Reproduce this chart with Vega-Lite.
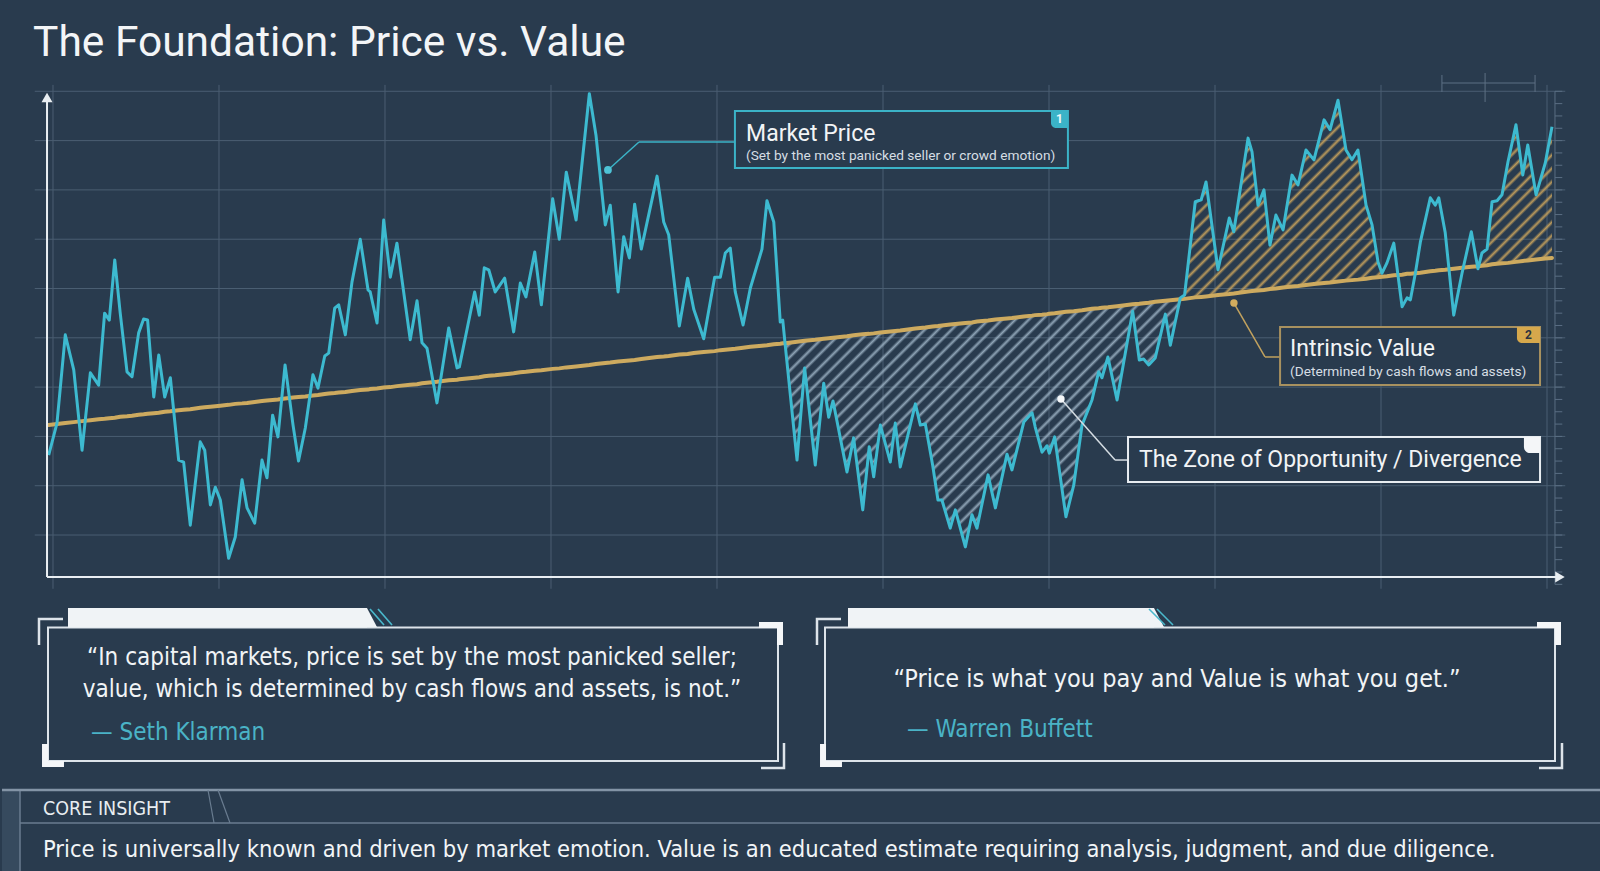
{
  "$schema": "https://vega.github.io/schema/vega-lite/v6.json",
  "background": "#293b4e",
  "padding": 0,
  "config": {
    "view": {"stroke": null},
    "axis": {"disable": true},
    "font": "Roboto"
  },
  "datasets": {
    "header": [{"title": "The Foundation: Price vs. Value"}],
    "prices": [
      {"t": -0.26, "price": 26.2, "value": 32.3}, {"t": 0.24, "price": 32.7, "value": 32.5}, {"t": 0.74, "price": 50.6, "value": 32.7},
      {"t": 1.25, "price": 43.5, "value": 32.9}, {"t": 1.75, "price": 27.2, "value": 33.1}, {"t": 2.25, "price": 42.9, "value": 33.3},
      {"t": 2.75, "price": 40.4, "value": 33.5}, {"t": 3.11, "price": 55.0, "value": 33.6}, {"t": 3.39, "price": 53.6, "value": 33.7},
      {"t": 3.72, "price": 65.8, "value": 33.8}, {"t": 4.05, "price": 55.0, "value": 34.0}, {"t": 4.46, "price": 43.1, "value": 34.1},
      {"t": 4.76, "price": 42.1, "value": 34.2}, {"t": 5.16, "price": 51.0, "value": 34.4}, {"t": 5.46, "price": 53.8, "value": 34.5},
      {"t": 5.70, "price": 53.6, "value": 34.6}, {"t": 6.07, "price": 38.0, "value": 34.7}, {"t": 6.37, "price": 46.5, "value": 34.8},
      {"t": 6.73, "price": 38.0, "value": 35.0}, {"t": 7.07, "price": 41.9, "value": 35.1}, {"t": 7.57, "price": 25.2, "value": 35.3},
      {"t": 7.87, "price": 24.8, "value": 35.4}, {"t": 8.27, "price": 12.0, "value": 35.5}, {"t": 8.87, "price": 28.9, "value": 35.8},
      {"t": 9.14, "price": 27.2, "value": 35.9}, {"t": 9.48, "price": 16.1, "value": 36.0}, {"t": 9.78, "price": 19.7, "value": 36.1},
      {"t": 10.08, "price": 17.1, "value": 36.2}, {"t": 10.58, "price": 5.3, "value": 36.4}, {"t": 10.98, "price": 9.6, "value": 36.6},
      {"t": 11.39, "price": 21.2, "value": 36.7}, {"t": 11.69, "price": 15.5, "value": 36.8}, {"t": 12.15, "price": 12.4, "value": 37.0},
      {"t": 12.59, "price": 25.2, "value": 37.2}, {"t": 12.89, "price": 21.6, "value": 37.3}, {"t": 13.23, "price": 34.3, "value": 37.4},
      {"t": 13.55, "price": 29.9, "value": 37.5}, {"t": 13.98, "price": 44.5, "value": 37.7}, {"t": 14.46, "price": 32.3, "value": 37.9},
      {"t": 14.79, "price": 25.0, "value": 38.0}, {"t": 15.20, "price": 31.7, "value": 38.1}, {"t": 15.66, "price": 42.5, "value": 38.3},
      {"t": 15.96, "price": 39.8, "value": 38.4}, {"t": 16.37, "price": 46.3, "value": 38.6}, {"t": 16.61, "price": 46.9, "value": 38.7},
      {"t": 16.97, "price": 56.0, "value": 38.8}, {"t": 17.21, "price": 56.7, "value": 38.9}, {"t": 17.61, "price": 50.6, "value": 39.0},
      {"t": 18.01, "price": 61.3, "value": 39.2}, {"t": 18.51, "price": 70.0, "value": 39.4}, {"t": 18.98, "price": 59.7, "value": 39.5},
      {"t": 19.11, "price": 59.3, "value": 39.6}, {"t": 19.52, "price": 53.0, "value": 39.7}, {"t": 19.92, "price": 73.9, "value": 39.9},
      {"t": 20.32, "price": 62.3, "value": 40.0}, {"t": 20.72, "price": 69.2, "value": 40.2}, {"t": 21.52, "price": 49.6, "value": 40.5},
      {"t": 21.93, "price": 57.5, "value": 40.6}, {"t": 22.23, "price": 49.0, "value": 40.8}, {"t": 22.53, "price": 47.9, "value": 40.9},
      {"t": 23.13, "price": 36.8, "value": 41.1}, {"t": 23.84, "price": 52.0, "value": 41.4}, {"t": 24.34, "price": 43.9, "value": 41.5},
      {"t": 24.48, "price": 44.1, "value": 41.6}, {"t": 25.40, "price": 59.3, "value": 41.9}, {"t": 25.68, "price": 54.6, "value": 42.0},
      {"t": 25.98, "price": 64.2, "value": 42.2}, {"t": 26.25, "price": 63.8, "value": 42.3}, {"t": 26.64, "price": 59.3, "value": 42.4},
      {"t": 27.21, "price": 62.1, "value": 42.6}, {"t": 27.75, "price": 51.2, "value": 42.8}, {"t": 28.15, "price": 61.1, "value": 43.0},
      {"t": 28.49, "price": 58.3, "value": 43.1}, {"t": 29.02, "price": 67.4, "value": 43.3}, {"t": 29.42, "price": 56.7, "value": 43.4},
      {"t": 30.10, "price": 78.2, "value": 43.7}, {"t": 30.50, "price": 70.0, "value": 43.8}, {"t": 30.92, "price": 83.6, "value": 44.0},
      {"t": 31.51, "price": 73.9, "value": 44.2}, {"t": 32.31, "price": 99.5, "value": 44.5}, {"t": 32.71, "price": 91.1, "value": 44.7},
      {"t": 33.27, "price": 72.9, "value": 44.9}, {"t": 33.57, "price": 76.9, "value": 45.0}, {"t": 34.04, "price": 59.3, "value": 45.2},
      {"t": 34.38, "price": 70.5, "value": 45.3}, {"t": 34.72, "price": 66.2, "value": 45.4}, {"t": 35.04, "price": 77.1, "value": 45.5},
      {"t": 35.44, "price": 68.0, "value": 45.7}, {"t": 36.39, "price": 82.8, "value": 46.1}, {"t": 36.79, "price": 73.5, "value": 46.2},
      {"t": 37.09, "price": 70.9, "value": 46.3}, {"t": 37.73, "price": 52.4, "value": 46.6}, {"t": 38.23, "price": 62.1, "value": 46.7},
      {"t": 38.60, "price": 55.8, "value": 46.9}, {"t": 39.20, "price": 49.8, "value": 47.1}, {"t": 39.86, "price": 62.3, "value": 47.3},
      {"t": 40.20, "price": 62.3, "value": 47.5}, {"t": 40.50, "price": 67.2, "value": 47.6}, {"t": 40.80, "price": 68.2, "value": 47.7},
      {"t": 41.10, "price": 59.3, "value": 47.8}, {"t": 41.57, "price": 52.6, "value": 48.0}, {"t": 42.01, "price": 60.1, "value": 48.2},
      {"t": 42.71, "price": 68.0, "value": 48.4}, {"t": 43.01, "price": 77.8, "value": 48.5}, {"t": 43.42, "price": 73.5, "value": 48.7},
      {"t": 43.81, "price": 53.2, "value": 48.8}, {"t": 43.96, "price": 53.6, "value": 48.9}, {"t": 44.11, "price": 48.5, "value": 48.9},
      {"t": 44.82, "price": 25.2, "value": 49.2}, {"t": 45.28, "price": 43.9, "value": 49.4}, {"t": 45.92, "price": 24.2, "value": 49.6},
      {"t": 46.43, "price": 40.8, "value": 49.8}, {"t": 46.73, "price": 33.9, "value": 49.9}, {"t": 46.99, "price": 37.2, "value": 50.0},
      {"t": 47.83, "price": 22.8, "value": 50.3}, {"t": 48.23, "price": 29.7, "value": 50.5}, {"t": 48.78, "price": 15.1, "value": 50.7},
      {"t": 49.17, "price": 27.9, "value": 50.8}, {"t": 49.44, "price": 21.8, "value": 50.9}, {"t": 49.84, "price": 32.3, "value": 51.1},
      {"t": 50.44, "price": 24.8, "value": 51.3}, {"t": 50.74, "price": 32.7, "value": 51.4}, {"t": 51.04, "price": 23.8, "value": 51.5},
      {"t": 51.95, "price": 36.6, "value": 51.9}, {"t": 52.25, "price": 32.3, "value": 52.0}, {"t": 52.55, "price": 32.5, "value": 52.1},
      {"t": 52.99, "price": 24.2, "value": 52.3}, {"t": 53.31, "price": 17.1, "value": 52.4}, {"t": 53.55, "price": 17.1, "value": 52.5},
      {"t": 54.05, "price": 11.4, "value": 52.7}, {"t": 54.36, "price": 15.1, "value": 52.8}, {"t": 54.96, "price": 7.6, "value": 53.0},
      {"t": 55.36, "price": 14.1, "value": 53.1}, {"t": 55.66, "price": 11.4, "value": 53.3}, {"t": 56.33, "price": 22.2, "value": 53.5},
      {"t": 56.77, "price": 15.5, "value": 53.7}, {"t": 57.47, "price": 26.4, "value": 53.9}, {"t": 57.77, "price": 23.2, "value": 54.0},
      {"t": 58.48, "price": 32.9, "value": 54.3}, {"t": 58.98, "price": 34.8, "value": 54.5}, {"t": 59.17, "price": 31.9, "value": 54.6},
      {"t": 59.58, "price": 26.8, "value": 54.7}, {"t": 59.88, "price": 28.1, "value": 54.8}, {"t": 60.02, "price": 26.6, "value": 54.9},
      {"t": 60.34, "price": 29.9, "value": 55.0}, {"t": 61.02, "price": 13.7, "value": 55.3}, {"t": 61.49, "price": 20.1, "value": 55.4},
      {"t": 61.99, "price": 32.3, "value": 55.6}, {"t": 62.59, "price": 37.4, "value": 55.9}, {"t": 62.99, "price": 43.1, "value": 56.0},
      {"t": 63.19, "price": 41.9, "value": 56.1}, {"t": 63.55, "price": 46.1, "value": 56.2}, {"t": 64.10, "price": 37.4, "value": 56.4},
      {"t": 65.04, "price": 55.4, "value": 56.8}, {"t": 65.44, "price": 45.5, "value": 56.9}, {"t": 65.70, "price": 45.7, "value": 57.0},
      {"t": 66.01, "price": 44.5, "value": 57.1}, {"t": 66.40, "price": 45.9, "value": 57.3}, {"t": 67.01, "price": 54.8, "value": 57.5},
      {"t": 67.31, "price": 48.5, "value": 57.6}, {"t": 67.91, "price": 58.1, "value": 57.8}, {"t": 68.17, "price": 58.7, "value": 57.9},
      {"t": 68.81, "price": 77.6, "value": 58.2}, {"t": 69.17, "price": 78.0, "value": 58.3}, {"t": 69.46, "price": 81.6, "value": 58.4},
      {"t": 70.18, "price": 63.8, "value": 58.7}, {"t": 70.86, "price": 74.3, "value": 58.9}, {"t": 71.13, "price": 71.5, "value": 59.0},
      {"t": 71.99, "price": 90.5, "value": 59.4}, {"t": 72.23, "price": 87.7, "value": 59.5}, {"t": 72.59, "price": 76.9, "value": 59.6},
      {"t": 72.95, "price": 80.0, "value": 59.7}, {"t": 73.31, "price": 68.8, "value": 59.9}, {"t": 73.67, "price": 74.9, "value": 60.0},
      {"t": 74.10, "price": 71.9, "value": 60.2}, {"t": 74.64, "price": 83.0, "value": 60.4}, {"t": 75.00, "price": 81.0, "value": 60.5},
      {"t": 75.48, "price": 88.1, "value": 60.7}, {"t": 75.96, "price": 86.1, "value": 60.9}, {"t": 76.57, "price": 94.2, "value": 61.1},
      {"t": 76.93, "price": 92.2, "value": 61.2}, {"t": 77.41, "price": 98.2, "value": 61.4}, {"t": 77.89, "price": 88.1, "value": 61.6},
      {"t": 78.25, "price": 86.1, "value": 61.7}, {"t": 78.61, "price": 88.1, "value": 61.8}, {"t": 79.10, "price": 76.9, "value": 62.0},
      {"t": 79.46, "price": 72.9, "value": 62.2}, {"t": 79.82, "price": 65.4, "value": 62.3}, {"t": 80.06, "price": 63.1, "value": 62.4},
      {"t": 80.36, "price": 65.2, "value": 62.5}, {"t": 80.77, "price": 69.2, "value": 62.7}, {"t": 81.27, "price": 56.3, "value": 62.8},
      {"t": 81.57, "price": 58.1, "value": 63.0}, {"t": 81.77, "price": 57.7, "value": 63.0}, {"t": 82.07, "price": 63.1, "value": 63.1},
      {"t": 82.37, "price": 69.4, "value": 63.2}, {"t": 82.97, "price": 78.4, "value": 63.5}, {"t": 83.27, "price": 76.9, "value": 63.6},
      {"t": 83.48, "price": 78.4, "value": 63.7}, {"t": 83.87, "price": 71.3, "value": 63.8}, {"t": 84.38, "price": 54.6, "value": 64.0},
      {"t": 84.88, "price": 63.1, "value": 64.2}, {"t": 85.44, "price": 71.5, "value": 64.4}, {"t": 85.84, "price": 64.0, "value": 64.5},
      {"t": 86.08, "price": 67.2, "value": 64.6}, {"t": 86.39, "price": 68.0, "value": 64.7}, {"t": 86.69, "price": 77.6, "value": 64.9},
      {"t": 86.99, "price": 77.8, "value": 65.0}, {"t": 87.29, "price": 79.0, "value": 65.1}, {"t": 87.65, "price": 85.7, "value": 65.2},
      {"t": 88.13, "price": 93.2, "value": 65.4}, {"t": 88.54, "price": 83.0, "value": 65.6}, {"t": 88.84, "price": 89.1, "value": 65.7},
      {"t": 89.34, "price": 79.0, "value": 65.9}, {"t": 89.90, "price": 85.5, "value": 66.1}, {"t": 90.30, "price": 92.8, "value": 66.2}
    ],
    "gridV": [{"v": 10}, {"v": 20}, {"v": 30}, {"v": 40}, {"v": 50}, {"v": 60}, {"v": 70}, {"v": 80}, {"v": 90}, {"v": 100}],
    "gridT": [{"t": 0}, {"t": 10}, {"t": 20}, {"t": 30}, {"t": 40}, {"t": 50}, {"t": 60}, {"t": 70}, {"t": 80}, {"t": 90}],
    "rulerTicks": [
      {"v": 0}, {"v": 2.5}, {"v": 5}, {"v": 7.5}, {"v": 10}, {"v": 12.5}, {"v": 15}, {"v": 17.5}, {"v": 20}, {"v": 22.5},
      {"v": 25}, {"v": 27.5}, {"v": 30}, {"v": 32.5}, {"v": 35}, {"v": 37.5}, {"v": 40}, {"v": 42.5}, {"v": 45}, {"v": 47.5},
      {"v": 50}, {"v": 52.5}, {"v": 55}, {"v": 57.5}, {"v": 60}, {"v": 62.5}, {"v": 65}, {"v": 67.5}, {"v": 70}, {"v": 72.5},
      {"v": 75}, {"v": 77.5}, {"v": 80}, {"v": 82.5}, {"v": 85}, {"v": 87.5}, {"v": 90}, {"v": 92.5}, {"v": 95}, {"v": 97.5}, {"v": 100}
    ],
    "callouts": [
      {"id": 1, "label": "Market Price", "note": "(Set by the most panicked seller or crowd emotion)", "badge": "1"},
      {"id": 2, "label": "Intrinsic Value", "note": "(Determined by cash flows and assets)", "badge": "2"},
      {"id": 3, "label": "The Zone of Opportunity / Divergence", "note": "", "badge": ""}
    ],
    "quotes": [
      {"author": "Seth Klarman", "byline": "— Seth Klarman", "quote": ["“In capital markets, price is set by the most panicked seller;", "value, which is determined by cash flows and assets, is not.”"]},
      {"author": "Warren Buffett", "byline": "— Warren Buffett", "quote": ["“Price is what you pay and Value is what you get.”"]}
    ],
    "insight": [
      {"heading": "CORE INSIGHT", "insight": "Price is universally known and driven by market emotion. Value is an educated estimate requiring analysis, judgment, and due diligence."}
    ]
  },
  "spacing": 0,
  "bounds": "flush",
  "resolve": {"scale": {"x": "independent", "y": "independent"}},
  "vconcat": [
    {
      "width": 1600,
      "height": 84,
      "data": {"name": "header"},
      "mark": {"type": "text", "font": "Roboto", "fontSize": 42.5, "color": "#f3f5f7", "align": "left", "baseline": "alphabetic"},
      "encoding": {
        "x": {"datum": 1.94, "scale": {"domain": [0, 100], "nice": false, "zero": false}},
        "y": {"datum": 33.33, "scale": {"domain": [0, 100], "nice": false, "zero": false}},
        "text": {"field": "title"}
      }
    },
    {
      "width": 1600,
      "height": 516,
      "layer": [
        {
          "data": {"name": "gridV"},
          "mark": {"type": "rule", "stroke": "#4a5e72", "strokeWidth": 1},
          "encoding": {
            "y": {"field": "v", "type": "quantitative", "scale": {"domain": [-3.18, 101.48], "nice": false, "zero": false}},
            "x": {"datum": -1.1, "scale": {"domain": [-3.072, 93.313], "nice": false, "zero": false}},
            "x2": {"datum": 91.1}
          }
        },
        {
          "data": {"name": "gridT"},
          "mark": {"type": "rule", "stroke": "#4a5e72", "strokeWidth": 1},
          "encoding": {
            "x": {"field": "t", "type": "quantitative"},
            "y": {"datum": -0.9},
            "y2": {"datum": 101.3}
          }
        },
        {
          "data": {"name": "rulerTicks"},
          "mark": {"type": "rule", "stroke": "#5a6e83", "strokeWidth": 1},
          "encoding": {
            "y": {"field": "v", "type": "quantitative"},
            "x": {"datum": 90.48},
            "x2": {"datum": 90.92}
          }
        },
        {
          "data": {"name": "rulerTicks"},
          "mark": {"type": "rule", "stroke": "#5a6e83", "strokeWidth": 1},
          "encoding": {
            "x": {"datum": 90.48},
            "y": {"aggregate": "min", "field": "v", "type": "quantitative"},
            "y2": {"aggregate": "max", "field": "v"}
          }
        },
        {
          "data": {"name": "prices"},
          "transform": [{"filter": {"field": "t", "range": [44.11, 67.91]}}],
          "mark": {
            "type": "area",
            "fill": {
              "gradient": "linear", "x1": 0, "y1": 0, "x2": 1.217, "y2": 0.767,
              "stops": [
                {"offset": 0, "color": "#9fb5c700"},
                {"offset": 0.01, "color": "#9fb5c700"}, {"offset": 0.015, "color": "#9fb5c7d9"}, {"offset": 0.02, "color": "#9fb5c700"},
                {"offset": 0.03, "color": "#9fb5c700"}, {"offset": 0.035, "color": "#9fb5c7d9"}, {"offset": 0.04, "color": "#9fb5c700"},
                {"offset": 0.05, "color": "#9fb5c700"}, {"offset": 0.055, "color": "#9fb5c7d9"}, {"offset": 0.06, "color": "#9fb5c700"},
                {"offset": 0.07, "color": "#9fb5c700"}, {"offset": 0.075, "color": "#9fb5c7d9"}, {"offset": 0.08, "color": "#9fb5c700"},
                {"offset": 0.09, "color": "#9fb5c700"}, {"offset": 0.095, "color": "#9fb5c7d9"}, {"offset": 0.1, "color": "#9fb5c700"},
                {"offset": 0.11, "color": "#9fb5c700"}, {"offset": 0.115, "color": "#9fb5c7d9"}, {"offset": 0.12, "color": "#9fb5c700"},
                {"offset": 0.13, "color": "#9fb5c700"}, {"offset": 0.135, "color": "#9fb5c7d9"}, {"offset": 0.14, "color": "#9fb5c700"},
                {"offset": 0.15, "color": "#9fb5c700"}, {"offset": 0.155, "color": "#9fb5c7d9"}, {"offset": 0.16, "color": "#9fb5c700"},
                {"offset": 0.17, "color": "#9fb5c700"}, {"offset": 0.175, "color": "#9fb5c7d9"}, {"offset": 0.18, "color": "#9fb5c700"},
                {"offset": 0.19, "color": "#9fb5c700"}, {"offset": 0.195, "color": "#9fb5c7d9"}, {"offset": 0.2, "color": "#9fb5c700"},
                {"offset": 0.21, "color": "#9fb5c700"}, {"offset": 0.215, "color": "#9fb5c7d9"}, {"offset": 0.22, "color": "#9fb5c700"},
                {"offset": 0.23, "color": "#9fb5c700"}, {"offset": 0.235, "color": "#9fb5c7d9"}, {"offset": 0.24, "color": "#9fb5c700"},
                {"offset": 0.25, "color": "#9fb5c700"}, {"offset": 0.255, "color": "#9fb5c7d9"}, {"offset": 0.26, "color": "#9fb5c700"},
                {"offset": 0.27, "color": "#9fb5c700"}, {"offset": 0.275, "color": "#9fb5c7d9"}, {"offset": 0.28, "color": "#9fb5c700"},
                {"offset": 0.29, "color": "#9fb5c700"}, {"offset": 0.295, "color": "#9fb5c7d9"}, {"offset": 0.3, "color": "#9fb5c700"},
                {"offset": 0.31, "color": "#9fb5c700"}, {"offset": 0.315, "color": "#9fb5c7d9"}, {"offset": 0.32, "color": "#9fb5c700"},
                {"offset": 0.33, "color": "#9fb5c700"}, {"offset": 0.335, "color": "#9fb5c7d9"}, {"offset": 0.34, "color": "#9fb5c700"},
                {"offset": 0.35, "color": "#9fb5c700"}, {"offset": 0.355, "color": "#9fb5c7d9"}, {"offset": 0.36, "color": "#9fb5c700"},
                {"offset": 0.37, "color": "#9fb5c700"}, {"offset": 0.375, "color": "#9fb5c7d9"}, {"offset": 0.38, "color": "#9fb5c700"},
                {"offset": 0.39, "color": "#9fb5c700"}, {"offset": 0.395, "color": "#9fb5c7d9"}, {"offset": 0.4, "color": "#9fb5c700"},
                {"offset": 0.41, "color": "#9fb5c700"}, {"offset": 0.415, "color": "#9fb5c7d9"}, {"offset": 0.42, "color": "#9fb5c700"},
                {"offset": 0.43, "color": "#9fb5c700"}, {"offset": 0.435, "color": "#9fb5c7d9"}, {"offset": 0.44, "color": "#9fb5c700"},
                {"offset": 0.45, "color": "#9fb5c700"}, {"offset": 0.455, "color": "#9fb5c7d9"}, {"offset": 0.46, "color": "#9fb5c700"},
                {"offset": 0.47, "color": "#9fb5c700"}, {"offset": 0.475, "color": "#9fb5c7d9"}, {"offset": 0.48, "color": "#9fb5c700"},
                {"offset": 0.49, "color": "#9fb5c700"}, {"offset": 0.495, "color": "#9fb5c7d9"}, {"offset": 0.5, "color": "#9fb5c700"},
                {"offset": 0.51, "color": "#9fb5c700"}, {"offset": 0.515, "color": "#9fb5c7d9"}, {"offset": 0.52, "color": "#9fb5c700"},
                {"offset": 0.53, "color": "#9fb5c700"}, {"offset": 0.535, "color": "#9fb5c7d9"}, {"offset": 0.54, "color": "#9fb5c700"},
                {"offset": 0.55, "color": "#9fb5c700"}, {"offset": 0.555, "color": "#9fb5c7d9"}, {"offset": 0.56, "color": "#9fb5c700"},
                {"offset": 0.57, "color": "#9fb5c700"}, {"offset": 0.575, "color": "#9fb5c7d9"}, {"offset": 0.58, "color": "#9fb5c700"},
                {"offset": 0.59, "color": "#9fb5c700"}, {"offset": 0.595, "color": "#9fb5c7d9"}, {"offset": 0.6, "color": "#9fb5c700"},
                {"offset": 0.61, "color": "#9fb5c700"}, {"offset": 0.615, "color": "#9fb5c7d9"}, {"offset": 0.62, "color": "#9fb5c700"},
                {"offset": 0.63, "color": "#9fb5c700"}, {"offset": 0.635, "color": "#9fb5c7d9"}, {"offset": 0.64, "color": "#9fb5c700"},
                {"offset": 0.65, "color": "#9fb5c700"}, {"offset": 0.655, "color": "#9fb5c7d9"}, {"offset": 0.66, "color": "#9fb5c700"},
                {"offset": 0.67, "color": "#9fb5c700"}, {"offset": 0.675, "color": "#9fb5c7d9"}, {"offset": 0.68, "color": "#9fb5c700"},
                {"offset": 0.69, "color": "#9fb5c700"}, {"offset": 0.695, "color": "#9fb5c7d9"}, {"offset": 0.7, "color": "#9fb5c700"},
                {"offset": 0.71, "color": "#9fb5c700"}, {"offset": 0.715, "color": "#9fb5c7d9"}, {"offset": 0.72, "color": "#9fb5c700"},
                {"offset": 0.73, "color": "#9fb5c700"}, {"offset": 0.735, "color": "#9fb5c7d9"}, {"offset": 0.74, "color": "#9fb5c700"},
                {"offset": 0.75, "color": "#9fb5c700"}, {"offset": 0.755, "color": "#9fb5c7d9"}, {"offset": 0.76, "color": "#9fb5c700"},
                {"offset": 0.77, "color": "#9fb5c700"}, {"offset": 0.775, "color": "#9fb5c7d9"}, {"offset": 0.78, "color": "#9fb5c700"},
                {"offset": 0.79, "color": "#9fb5c700"}, {"offset": 0.795, "color": "#9fb5c7d9"}, {"offset": 0.8, "color": "#9fb5c700"},
                {"offset": 0.81, "color": "#9fb5c700"}, {"offset": 0.815, "color": "#9fb5c7d9"}, {"offset": 0.82, "color": "#9fb5c700"},
                {"offset": 0.83, "color": "#9fb5c700"}, {"offset": 0.835, "color": "#9fb5c7d9"}, {"offset": 0.84, "color": "#9fb5c700"},
                {"offset": 0.85, "color": "#9fb5c700"}, {"offset": 0.855, "color": "#9fb5c7d9"}, {"offset": 0.86, "color": "#9fb5c700"},
                {"offset": 0.87, "color": "#9fb5c700"}, {"offset": 0.875, "color": "#9fb5c7d9"}, {"offset": 0.88, "color": "#9fb5c700"},
                {"offset": 0.89, "color": "#9fb5c700"}, {"offset": 0.895, "color": "#9fb5c7d9"}, {"offset": 0.9, "color": "#9fb5c700"},
                {"offset": 0.91, "color": "#9fb5c700"}, {"offset": 0.915, "color": "#9fb5c7d9"}, {"offset": 0.92, "color": "#9fb5c700"},
                {"offset": 0.93, "color": "#9fb5c700"}, {"offset": 0.935, "color": "#9fb5c7d9"}, {"offset": 0.94, "color": "#9fb5c700"},
                {"offset": 0.95, "color": "#9fb5c700"}, {"offset": 0.955, "color": "#9fb5c7d9"}, {"offset": 0.96, "color": "#9fb5c700"},
                {"offset": 0.97, "color": "#9fb5c700"}, {"offset": 0.975, "color": "#9fb5c7d9"}, {"offset": 0.98, "color": "#9fb5c700"},
                {"offset": 0.99, "color": "#9fb5c700"}, {"offset": 0.995, "color": "#9fb5c7d9"}, {"offset": 1, "color": "#9fb5c700"}
              ]
            }
          },
          "encoding": {
            "x": {"field": "t", "type": "quantitative"},
            "y": {"field": "price", "type": "quantitative"},
            "y2": {"field": "value"}
          }
        },
        {
          "data": {"name": "prices"},
          "transform": [{"filter": {"field": "t", "range": [67.91, 80.06]}}],
          "mark": {
            "type": "area",
            "fill": {
              "gradient": "linear", "x1": 0, "y1": 0, "x2": 1.685, "y2": 1.665,
              "stops": [
                {"offset": 0, "color": "#c9a35c00"},
                {"offset": 0.01, "color": "#c9a35c00"}, {"offset": 0.015, "color": "#c9a35ce6"}, {"offset": 0.02, "color": "#c9a35c00"},
                {"offset": 0.03, "color": "#c9a35c00"}, {"offset": 0.035, "color": "#c9a35ce6"}, {"offset": 0.04, "color": "#c9a35c00"},
                {"offset": 0.05, "color": "#c9a35c00"}, {"offset": 0.055, "color": "#c9a35ce6"}, {"offset": 0.06, "color": "#c9a35c00"},
                {"offset": 0.07, "color": "#c9a35c00"}, {"offset": 0.075, "color": "#c9a35ce6"}, {"offset": 0.08, "color": "#c9a35c00"},
                {"offset": 0.09, "color": "#c9a35c00"}, {"offset": 0.095, "color": "#c9a35ce6"}, {"offset": 0.1, "color": "#c9a35c00"},
                {"offset": 0.11, "color": "#c9a35c00"}, {"offset": 0.115, "color": "#c9a35ce6"}, {"offset": 0.12, "color": "#c9a35c00"},
                {"offset": 0.13, "color": "#c9a35c00"}, {"offset": 0.135, "color": "#c9a35ce6"}, {"offset": 0.14, "color": "#c9a35c00"},
                {"offset": 0.15, "color": "#c9a35c00"}, {"offset": 0.155, "color": "#c9a35ce6"}, {"offset": 0.16, "color": "#c9a35c00"},
                {"offset": 0.17, "color": "#c9a35c00"}, {"offset": 0.175, "color": "#c9a35ce6"}, {"offset": 0.18, "color": "#c9a35c00"},
                {"offset": 0.19, "color": "#c9a35c00"}, {"offset": 0.195, "color": "#c9a35ce6"}, {"offset": 0.2, "color": "#c9a35c00"},
                {"offset": 0.21, "color": "#c9a35c00"}, {"offset": 0.215, "color": "#c9a35ce6"}, {"offset": 0.22, "color": "#c9a35c00"},
                {"offset": 0.23, "color": "#c9a35c00"}, {"offset": 0.235, "color": "#c9a35ce6"}, {"offset": 0.24, "color": "#c9a35c00"},
                {"offset": 0.25, "color": "#c9a35c00"}, {"offset": 0.255, "color": "#c9a35ce6"}, {"offset": 0.26, "color": "#c9a35c00"},
                {"offset": 0.27, "color": "#c9a35c00"}, {"offset": 0.275, "color": "#c9a35ce6"}, {"offset": 0.28, "color": "#c9a35c00"},
                {"offset": 0.29, "color": "#c9a35c00"}, {"offset": 0.295, "color": "#c9a35ce6"}, {"offset": 0.3, "color": "#c9a35c00"},
                {"offset": 0.31, "color": "#c9a35c00"}, {"offset": 0.315, "color": "#c9a35ce6"}, {"offset": 0.32, "color": "#c9a35c00"},
                {"offset": 0.33, "color": "#c9a35c00"}, {"offset": 0.335, "color": "#c9a35ce6"}, {"offset": 0.34, "color": "#c9a35c00"},
                {"offset": 0.35, "color": "#c9a35c00"}, {"offset": 0.355, "color": "#c9a35ce6"}, {"offset": 0.36, "color": "#c9a35c00"},
                {"offset": 0.37, "color": "#c9a35c00"}, {"offset": 0.375, "color": "#c9a35ce6"}, {"offset": 0.38, "color": "#c9a35c00"},
                {"offset": 0.39, "color": "#c9a35c00"}, {"offset": 0.395, "color": "#c9a35ce6"}, {"offset": 0.4, "color": "#c9a35c00"},
                {"offset": 0.41, "color": "#c9a35c00"}, {"offset": 0.415, "color": "#c9a35ce6"}, {"offset": 0.42, "color": "#c9a35c00"},
                {"offset": 0.43, "color": "#c9a35c00"}, {"offset": 0.435, "color": "#c9a35ce6"}, {"offset": 0.44, "color": "#c9a35c00"},
                {"offset": 0.45, "color": "#c9a35c00"}, {"offset": 0.455, "color": "#c9a35ce6"}, {"offset": 0.46, "color": "#c9a35c00"},
                {"offset": 0.47, "color": "#c9a35c00"}, {"offset": 0.475, "color": "#c9a35ce6"}, {"offset": 0.48, "color": "#c9a35c00"},
                {"offset": 0.49, "color": "#c9a35c00"}, {"offset": 0.495, "color": "#c9a35ce6"}, {"offset": 0.5, "color": "#c9a35c00"},
                {"offset": 0.51, "color": "#c9a35c00"}, {"offset": 0.515, "color": "#c9a35ce6"}, {"offset": 0.52, "color": "#c9a35c00"},
                {"offset": 0.53, "color": "#c9a35c00"}, {"offset": 0.535, "color": "#c9a35ce6"}, {"offset": 0.54, "color": "#c9a35c00"},
                {"offset": 0.55, "color": "#c9a35c00"}, {"offset": 0.555, "color": "#c9a35ce6"}, {"offset": 0.56, "color": "#c9a35c00"},
                {"offset": 0.57, "color": "#c9a35c00"}, {"offset": 0.575, "color": "#c9a35ce6"}, {"offset": 0.58, "color": "#c9a35c00"},
                {"offset": 0.59, "color": "#c9a35c00"}, {"offset": 0.595, "color": "#c9a35ce6"}, {"offset": 0.6, "color": "#c9a35c00"},
                {"offset": 0.61, "color": "#c9a35c00"}, {"offset": 0.615, "color": "#c9a35ce6"}, {"offset": 0.62, "color": "#c9a35c00"}
              ]
            }
          },
          "encoding": {
            "x": {"field": "t", "type": "quantitative"},
            "y": {"field": "price", "type": "quantitative"},
            "y2": {"field": "value"}
          }
        },
        {
          "data": {"name": "prices"},
          "transform": [{"filter": {"field": "t", "range": [85.84, 90.3]}}],
          "mark": {
            "type": "area",
            "fill": {
              "gradient": "linear", "x1": 0, "y1": 0, "x2": 1.896, "y2": 3.69,
              "stops": [
                {"offset": 0, "color": "#c9a35c00"},
                {"offset": 0.01, "color": "#c9a35c00"}, {"offset": 0.015, "color": "#c9a35ce6"}, {"offset": 0.02, "color": "#c9a35c00"},
                {"offset": 0.03, "color": "#c9a35c00"}, {"offset": 0.035, "color": "#c9a35ce6"}, {"offset": 0.04, "color": "#c9a35c00"},
                {"offset": 0.05, "color": "#c9a35c00"}, {"offset": 0.055, "color": "#c9a35ce6"}, {"offset": 0.06, "color": "#c9a35c00"},
                {"offset": 0.07, "color": "#c9a35c00"}, {"offset": 0.075, "color": "#c9a35ce6"}, {"offset": 0.08, "color": "#c9a35c00"},
                {"offset": 0.09, "color": "#c9a35c00"}, {"offset": 0.095, "color": "#c9a35ce6"}, {"offset": 0.1, "color": "#c9a35c00"},
                {"offset": 0.11, "color": "#c9a35c00"}, {"offset": 0.115, "color": "#c9a35ce6"}, {"offset": 0.12, "color": "#c9a35c00"},
                {"offset": 0.13, "color": "#c9a35c00"}, {"offset": 0.135, "color": "#c9a35ce6"}, {"offset": 0.14, "color": "#c9a35c00"},
                {"offset": 0.15, "color": "#c9a35c00"}, {"offset": 0.155, "color": "#c9a35ce6"}, {"offset": 0.16, "color": "#c9a35c00"},
                {"offset": 0.17, "color": "#c9a35c00"}, {"offset": 0.175, "color": "#c9a35ce6"}, {"offset": 0.18, "color": "#c9a35c00"},
                {"offset": 0.19, "color": "#c9a35c00"}, {"offset": 0.195, "color": "#c9a35ce6"}, {"offset": 0.2, "color": "#c9a35c00"},
                {"offset": 0.21, "color": "#c9a35c00"}, {"offset": 0.215, "color": "#c9a35ce6"}, {"offset": 0.22, "color": "#c9a35c00"},
                {"offset": 0.23, "color": "#c9a35c00"}, {"offset": 0.235, "color": "#c9a35ce6"}, {"offset": 0.24, "color": "#c9a35c00"},
                {"offset": 0.25, "color": "#c9a35c00"}, {"offset": 0.255, "color": "#c9a35ce6"}, {"offset": 0.26, "color": "#c9a35c00"},
                {"offset": 0.27, "color": "#c9a35c00"}, {"offset": 0.275, "color": "#c9a35ce6"}, {"offset": 0.28, "color": "#c9a35c00"},
                {"offset": 0.29, "color": "#c9a35c00"}, {"offset": 0.295, "color": "#c9a35ce6"}, {"offset": 0.3, "color": "#c9a35c00"},
                {"offset": 0.31, "color": "#c9a35c00"}, {"offset": 0.315, "color": "#c9a35ce6"}, {"offset": 0.32, "color": "#c9a35c00"},
                {"offset": 0.33, "color": "#c9a35c00"}, {"offset": 0.335, "color": "#c9a35ce6"}, {"offset": 0.34, "color": "#c9a35c00"},
                {"offset": 0.35, "color": "#c9a35c00"}, {"offset": 0.355, "color": "#c9a35ce6"}, {"offset": 0.36, "color": "#c9a35c00"}
              ]
            }
          },
          "encoding": {
            "x": {"field": "t", "type": "quantitative"},
            "y": {"field": "price", "type": "quantitative"},
            "y2": {"field": "value"}
          }
        },
        {
          "data": {"name": "prices"},
          "mark": {"type": "line", "color": "#cdaa5f", "strokeWidth": 4, "strokeCap": "round"},
          "encoding": {
            "x": {"field": "t", "type": "quantitative"},
            "y": {"field": "value", "type": "quantitative"}
          }
        },
        {
          "data": {"name": "prices"},
          "mark": {"type": "line", "color": "#3dbad0", "strokeWidth": 3, "strokeJoin": "round"},
          "encoding": {
            "x": {"field": "t", "type": "quantitative"},
            "y": {"field": "price", "type": "quantitative"}
          }
        },
        {
          "data": {"values": [{"guide": "axes"}]},
          "layer": [
            {
              "mark": {"type": "rule", "stroke": "#e9eef2", "strokeWidth": 2},
              "encoding": {"x": {"datum": -0.36}, "y": {"datum": 1.48}, "y2": {"datum": 98.2}}
            },
            {
              "mark": {"type": "rule", "stroke": "#e9eef2", "strokeWidth": 2},
              "encoding": {"y": {"datum": 1.48}, "x": {"datum": -0.36}, "x2": {"datum": 90.6}}
            },
            {
              "mark": {"type": "point", "shape": "triangle-up", "size": 121, "filled": true, "color": "#e9eef2", "opacity": 1, "strokeWidth": 0},
              "encoding": {"x": {"datum": -0.36}, "y": {"datum": 98.74}}
            },
            {
              "mark": {"type": "point", "shape": "triangle-right", "size": 121, "filled": true, "color": "#e9eef2", "opacity": 1, "strokeWidth": 0},
              "encoding": {"x": {"datum": 90.78}, "y": {"datum": 1.48}}
            },
            {
              "mark": {"type": "rule", "stroke": "#5d7084", "strokeWidth": 1},
              "encoding": {"x": {"datum": 83.67}, "x2": {"datum": 89.28}, "y": {"datum": 101.68}}
            },
            {
              "mark": {"type": "rule", "stroke": "#5d7084", "strokeWidth": 1},
              "encoding": {"x": {"datum": 83.67}, "y": {"datum": 99.86}, "y2": {"datum": 103.31}}
            },
            {
              "mark": {"type": "rule", "stroke": "#5d7084", "strokeWidth": 1},
              "encoding": {"x": {"datum": 89.28}, "y": {"datum": 99.86}, "y2": {"datum": 103.31}}
            },
            {
              "mark": {"type": "rule", "stroke": "#5d7084", "strokeWidth": 1},
              "encoding": {"x": {"datum": 86.27}, "y": {"datum": 97.83}, "y2": {"datum": 103.71}}
            }
          ]
        },
        {
          "data": {"name": "callouts"},
          "transform": [{"filter": "datum.id === 1"}],
          "layer": [
            {
              "mark": {"type": "rule", "stroke": "#3bb3c7", "strokeWidth": 1.5},
              "encoding": {"x": {"datum": 41.08}, "x2": {"datum": 35.3}, "y": {"datum": 89.72}}
            },
            {
              "mark": {"type": "rule", "stroke": "#3bb3c7", "strokeWidth": 1.5},
              "encoding": {"x": {"datum": 35.3}, "y": {"datum": 89.72}, "x2": {"datum": 33.43}, "y2": {"datum": 84.04}}
            },
            {
              "mark": {"type": "point", "shape": "circle", "size": 60, "filled": true, "color": "#4ec3d6", "opacity": 1},
              "encoding": {"x": {"datum": 33.43}, "y": {"datum": 84.04}}
            },
            {
              "mark": {"type": "rect", "fill": "#293b4e", "stroke": "#3bb3c7", "strokeWidth": 2},
              "encoding": {"x": {"datum": 41.08}, "x2": {"datum": 61.14}, "y": {"datum": 84.44}, "y2": {"datum": 96.0}}
            },
            {
              "mark": {"type": "rect", "fill": "#3bb3c7", "cornerRadiusBottomLeft": 5},
              "encoding": {"x": {"datum": 60.12}, "x2": {"datum": 61.14}, "y": {"datum": 92.56}, "y2": {"datum": 96.0}}
            },
            {
              "mark": {"type": "text", "fontSize": 12, "fontWeight": "bold", "color": "#eef8fa", "align": "center", "baseline": "middle"},
              "encoding": {"x": {"datum": 60.63}, "y": {"datum": 94.28}, "text": {"field": "badge"}}
            },
            {
              "mark": {"type": "text", "fontSize": 23, "color": "#f2f4f6", "align": "left", "baseline": "alphabetic"},
              "encoding": {"x": {"datum": 41.75}, "y": {"datum": 89.9}, "text": {"field": "label"}}
            },
            {
              "mark": {"type": "text", "fontSize": 13.7, "color": "#d6dee4", "align": "left", "baseline": "alphabetic"},
              "encoding": {"x": {"datum": 41.75}, "y": {"datum": 86.07}, "text": {"field": "note"}}
            }
          ]
        },
        {
          "data": {"name": "callouts"},
          "transform": [{"filter": "datum.id === 2"}],
          "layer": [
            {
              "mark": {"type": "rule", "stroke": "#c2a25e", "strokeWidth": 1.5},
              "encoding": {"x": {"datum": 73.92}, "x2": {"datum": 73.01}, "y": {"datum": 46.11}}
            },
            {
              "mark": {"type": "rule", "stroke": "#c2a25e", "strokeWidth": 1.5},
              "encoding": {"x": {"datum": 73.01}, "y": {"datum": 46.11}, "x2": {"datum": 71.14}, "y2": {"datum": 57.06}}
            },
            {
              "mark": {"type": "point", "shape": "circle", "size": 55, "filled": true, "color": "#d4ad5e", "opacity": 1},
              "encoding": {"x": {"datum": 71.14}, "y": {"datum": 57.06}}
            },
            {
              "mark": {"type": "rect", "fill": "#293b4e", "stroke": "#a8915f", "strokeWidth": 2},
              "encoding": {"x": {"datum": 73.92}, "x2": {"datum": 89.58}, "y": {"datum": 40.43}, "y2": {"datum": 52.19}}
            },
            {
              "mark": {"type": "rect", "fill": "#d6a84c", "cornerRadiusBottomLeft": 5},
              "encoding": {"x": {"datum": 88.19}, "x2": {"datum": 89.58}, "y": {"datum": 48.95}, "y2": {"datum": 52.19}}
            },
            {
              "mark": {"type": "text", "fontSize": 12, "fontWeight": "bold", "color": "#2d3440", "align": "center", "baseline": "middle"},
              "encoding": {"x": {"datum": 88.885}, "y": {"datum": 50.57}, "text": {"field": "badge"}}
            },
            {
              "mark": {"type": "text", "fontSize": 23, "color": "#f2f4f6", "align": "left", "baseline": "alphabetic"},
              "encoding": {"x": {"datum": 74.52}, "y": {"datum": 46.31}, "text": {"field": "label"}}
            },
            {
              "mark": {"type": "text", "fontSize": 13.7, "color": "#d6dee4", "align": "left", "baseline": "alphabetic"},
              "encoding": {"x": {"datum": 74.52}, "y": {"datum": 42.25}, "text": {"field": "note"}}
            }
          ]
        },
        {
          "data": {"name": "callouts"},
          "transform": [{"filter": "datum.id === 3"}],
          "layer": [
            {
              "mark": {"type": "rule", "stroke": "#d5dde3", "strokeWidth": 1.5},
              "encoding": {"x": {"datum": 64.76}, "x2": {"datum": 63.98}, "y": {"datum": 25.21}}
            },
            {
              "mark": {"type": "rule", "stroke": "#d5dde3", "strokeWidth": 1.5},
              "encoding": {"x": {"datum": 63.98}, "y": {"datum": 25.21}, "x2": {"datum": 60.72}, "y2": {"datum": 37.59}}
            },
            {
              "mark": {"type": "point", "shape": "circle", "size": 55, "filled": true, "color": "#f4f6f8", "opacity": 1},
              "encoding": {"x": {"datum": 60.72}, "y": {"datum": 37.59}}
            },
            {
              "mark": {"type": "rect", "fill": "#293b4e", "stroke": "#e8edf1", "strokeWidth": 2},
              "encoding": {"x": {"datum": 64.76}, "x2": {"datum": 89.58}, "y": {"datum": 20.75}, "y2": {"datum": 29.88}}
            },
            {
              "mark": {"type": "rect", "fill": "#f4f6f8", "cornerRadiusBottomLeft": 6},
              "encoding": {"x": {"datum": 88.61}, "x2": {"datum": 89.58}, "y": {"datum": 26.64}, "y2": {"datum": 29.88}}
            },
            {
              "mark": {"type": "text", "fontSize": 23, "color": "#f2f4f6", "align": "left", "baseline": "alphabetic"},
              "encoding": {"x": {"datum": 65.42}, "y": {"datum": 23.79}, "text": {"field": "label"}}
            }
          ]
        }
      ]
    },
    {
      "width": 1600,
      "height": 175,
      "data": {"name": "quotes"},
      "layer": [
        {
          "transform": [{"filter": "datum.author === 'Seth Klarman'"}],
          "layer": [
            {
              "mark": {"type": "rect", "filled": false, "stroke": "#dde4ea", "strokeWidth": 2},
              "encoding": {
                "x": {"datum": 2.875, "scale": {"domain": [0, 100], "nice": false, "zero": false}},
                "x2": {"datum": 48.5},
                "y": {"datum": 8.0, "scale": {"domain": [0, 100], "nice": false, "zero": false}},
                "y2": {"datum": 84.29}
              }
            },
            {
              "mark": {"type": "rect", "fill": "#f0f3f6"},
              "encoding": {"x": {"datum": 4.125}, "x2": {"datum": 22.8125}, "y": {"datum": 84.29}, "y2": {"datum": 95.43}}
            },
            {
              "mark": {"type": "point", "shape": "M -0.526 -1 L 0.526 1 L -0.526 1 Z", "size": 361, "filled": true, "color": "#f0f3f6", "opacity": 1, "strokeWidth": 0},
              "encoding": {"x": {"datum": 23.125}, "y": {"datum": 90.0}}
            },
            {
              "mark": {"type": "rule", "stroke": "#4ab8cc", "strokeWidth": 1.6},
              "encoding": {"x": {"datum": 23.0}, "y": {"datum": 94.86}, "x2": {"datum": 23.875}, "y2": {"datum": 85.71}}
            },
            {
              "mark": {"type": "rule", "stroke": "#4ab8cc", "strokeWidth": 1.6},
              "encoding": {"x": {"datum": 23.5}, "y": {"datum": 94.86}, "x2": {"datum": 24.375}, "y2": {"datum": 85.71}}
            },
            {
              "mark": {"type": "point", "shape": "M 0.923 -1 L -0.923 -1 L -0.923 1", "size": 676, "filled": false, "stroke": "#dde4ea", "strokeWidth": 2.5, "opacity": 1},
              "encoding": {"x": {"datum": 3.0625}, "y": {"datum": 81.71}}
            },
            {
              "mark": {"type": "point", "shape": "M -0.875 -0.833 L 0.875 -0.833 L 0.875 0.833", "size": 576, "filled": false, "stroke": "#f4f6f8", "strokeWidth": 6, "strokeJoin": "miter", "strokeCap": "butt", "opacity": 1},
              "encoding": {"x": {"datum": 47.969}, "y": {"datum": 80.0}}
            },
            {
              "mark": {"type": "point", "shape": "M -0.79 -0.833 L -0.79 0.833 L 0.79 0.833", "size": 576, "filled": false, "stroke": "#f4f6f8", "strokeWidth": 6, "strokeJoin": "miter", "strokeCap": "butt", "opacity": 1},
              "encoding": {"x": {"datum": 3.281}, "y": {"datum": 12.0}}
            },
            {
              "mark": {"type": "point", "shape": "M 0.92 -1 L 0.92 1 L -0.92 1", "size": 625, "filled": false, "stroke": "#dde4ea", "strokeWidth": 2.5, "opacity": 1},
              "encoding": {"x": {"datum": 48.156}, "y": {"datum": 11.14}}
            },
            {
              "mark": {"type": "text", "font": "Liberation Sans Narrow, DejaVu Sans Condensed, Roboto Condensed, Roboto", "fontSize": 24, "lineHeight": 32, "color": "#f1f4f6", "align": "center", "baseline": "alphabetic"},
              "encoding": {"x": {"datum": 25.625}, "y": {"datum": 62.86}, "text": {"field": "quote"}}
            },
            {
              "mark": {"type": "text", "font": "Liberation Sans Narrow, DejaVu Sans Condensed, Roboto Condensed, Roboto", "fontSize": 24, "color": "#4ab3c6", "align": "left", "baseline": "alphabetic"},
              "encoding": {"x": {"datum": 5.5625}, "y": {"datum": 20.0}, "text": {"field": "byline"}}
            }
          ]
        },
        {
          "transform": [{"filter": "datum.author === 'Warren Buffett'"}],
          "layer": [
            {
              "mark": {"type": "rect", "filled": false, "stroke": "#dde4ea", "strokeWidth": 2},
              "encoding": {"x": {"datum": 51.4375}, "x2": {"datum": 97.0625}, "y": {"datum": 8.0}, "y2": {"datum": 84.29}}
            },
            {
              "mark": {"type": "rect", "fill": "#f0f3f6"},
              "encoding": {"x": {"datum": 52.875}, "x2": {"datum": 72.0}, "y": {"datum": 84.29}, "y2": {"datum": 95.43}}
            },
            {
              "mark": {"type": "point", "shape": "M -0.526 -1 L 0.526 1 L -0.526 1 Z", "size": 361, "filled": true, "color": "#f0f3f6", "opacity": 1, "strokeWidth": 0},
              "encoding": {"x": {"datum": 72.3125}, "y": {"datum": 90.0}}
            },
            {
              "mark": {"type": "rule", "stroke": "#4ab8cc", "strokeWidth": 1.6},
              "encoding": {"x": {"datum": 71.6875}, "y": {"datum": 94.86}, "x2": {"datum": 72.6875}, "y2": {"datum": 85.71}}
            },
            {
              "mark": {"type": "rule", "stroke": "#4ab8cc", "strokeWidth": 1.6},
              "encoding": {"x": {"datum": 72.1875}, "y": {"datum": 94.86}, "x2": {"datum": 73.1875}, "y2": {"datum": 85.71}}
            },
            {
              "mark": {"type": "point", "shape": "M 0.923 -1 L -0.923 -1 L -0.923 1", "size": 676, "filled": false, "stroke": "#dde4ea", "strokeWidth": 2.5, "opacity": 1},
              "encoding": {"x": {"datum": 51.6875}, "y": {"datum": 81.71}}
            },
            {
              "mark": {"type": "point", "shape": "M -0.875 -0.833 L 0.875 -0.833 L 0.875 0.833", "size": 576, "filled": false, "stroke": "#f4f6f8", "strokeWidth": 6, "strokeJoin": "miter", "strokeCap": "butt", "opacity": 1},
              "encoding": {"x": {"datum": 96.594}, "y": {"datum": 80.0}}
            },
            {
              "mark": {"type": "point", "shape": "M -0.79 -0.833 L -0.79 0.833 L 0.79 0.833", "size": 576, "filled": false, "stroke": "#f4f6f8", "strokeWidth": 6, "strokeJoin": "miter", "strokeCap": "butt", "opacity": 1},
              "encoding": {"x": {"datum": 51.906}, "y": {"datum": 12.0}}
            },
            {
              "mark": {"type": "point", "shape": "M 0.92 -1 L 0.92 1 L -0.92 1", "size": 625, "filled": false, "stroke": "#dde4ea", "strokeWidth": 2.5, "opacity": 1},
              "encoding": {"x": {"datum": 96.781}, "y": {"datum": 11.14}}
            },
            {
              "mark": {"type": "text", "font": "Liberation Sans Narrow, DejaVu Sans Condensed, Roboto Condensed, Roboto", "fontSize": 25, "color": "#f1f4f6", "align": "center", "baseline": "alphabetic"},
              "encoding": {"x": {"datum": 73.4375}, "y": {"datum": 50.29}, "text": {"field": "quote"}}
            },
            {
              "mark": {"type": "text", "font": "Liberation Sans Narrow, DejaVu Sans Condensed, Roboto Condensed, Roboto", "fontSize": 24, "color": "#4ab3c6", "align": "left", "baseline": "alphabetic"},
              "encoding": {"x": {"datum": 56.5625}, "y": {"datum": 21.71}, "text": {"field": "byline"}}
            }
          ]
        }
      ]
    },
    {
      "width": 1600,
      "height": 96,
      "data": {"name": "insight"},
      "layer": [
        {
          "mark": {"type": "rect", "fill": "#364a5e"},
          "encoding": {
            "x": {"datum": 0, "scale": {"domain": [0, 100], "nice": false, "zero": false}},
            "x2": {"datum": 1.125},
            "y": {"datum": 0, "scale": {"domain": [0, 100], "nice": false, "zero": false}},
            "y2": {"datum": 84.38}
          }
        },
        {
          "mark": {"type": "rule", "stroke": "#6a7d91", "strokeWidth": 1.5},
          "encoding": {"x": {"datum": 1.125}, "y": {"datum": 0}, "y2": {"datum": 84.38}}
        },
        {
          "mark": {"type": "rule", "stroke": "#8394a6", "strokeWidth": 2.5},
          "encoding": {"x": {"datum": 0}, "x2": {"datum": 100}, "y": {"datum": 84.38}}
        },
        {
          "mark": {"type": "rule", "stroke": "#6a7d91", "strokeWidth": 1.5},
          "encoding": {"x": {"datum": 1.125}, "x2": {"datum": 100}, "y": {"datum": 50.0}}
        },
        {
          "mark": {"type": "rule", "stroke": "#6a7d91", "strokeWidth": 1.2},
          "encoding": {"x": {"datum": 12.875}, "y": {"datum": 84.38}, "x2": {"datum": 13.25}, "y2": {"datum": 50.0}}
        },
        {
          "mark": {"type": "rule", "stroke": "#6a7d91", "strokeWidth": 1.2},
          "encoding": {"x": {"datum": 13.5}, "y": {"datum": 84.38}, "x2": {"datum": 14.25}, "y2": {"datum": 50.0}}
        },
        {
          "mark": {"type": "text", "font": "Liberation Sans Narrow, DejaVu Sans Condensed, Roboto Condensed, Roboto", "fontSize": 19.5, "color": "#e8edf1", "align": "left", "baseline": "alphabetic"},
          "encoding": {"x": {"datum": 2.5625}, "y": {"datum": 58.33}, "text": {"field": "heading"}}
        },
        {
          "mark": {"type": "text", "font": "Liberation Sans Narrow, DejaVu Sans Condensed, Roboto Condensed, Roboto", "fontSize": 23.5, "color": "#f2f5f7", "align": "left", "baseline": "alphabetic"},
          "encoding": {"x": {"datum": 2.5625}, "y": {"datum": 14.58}, "text": {"field": "insight"}}
        }
      ]
    }
  ]
}
